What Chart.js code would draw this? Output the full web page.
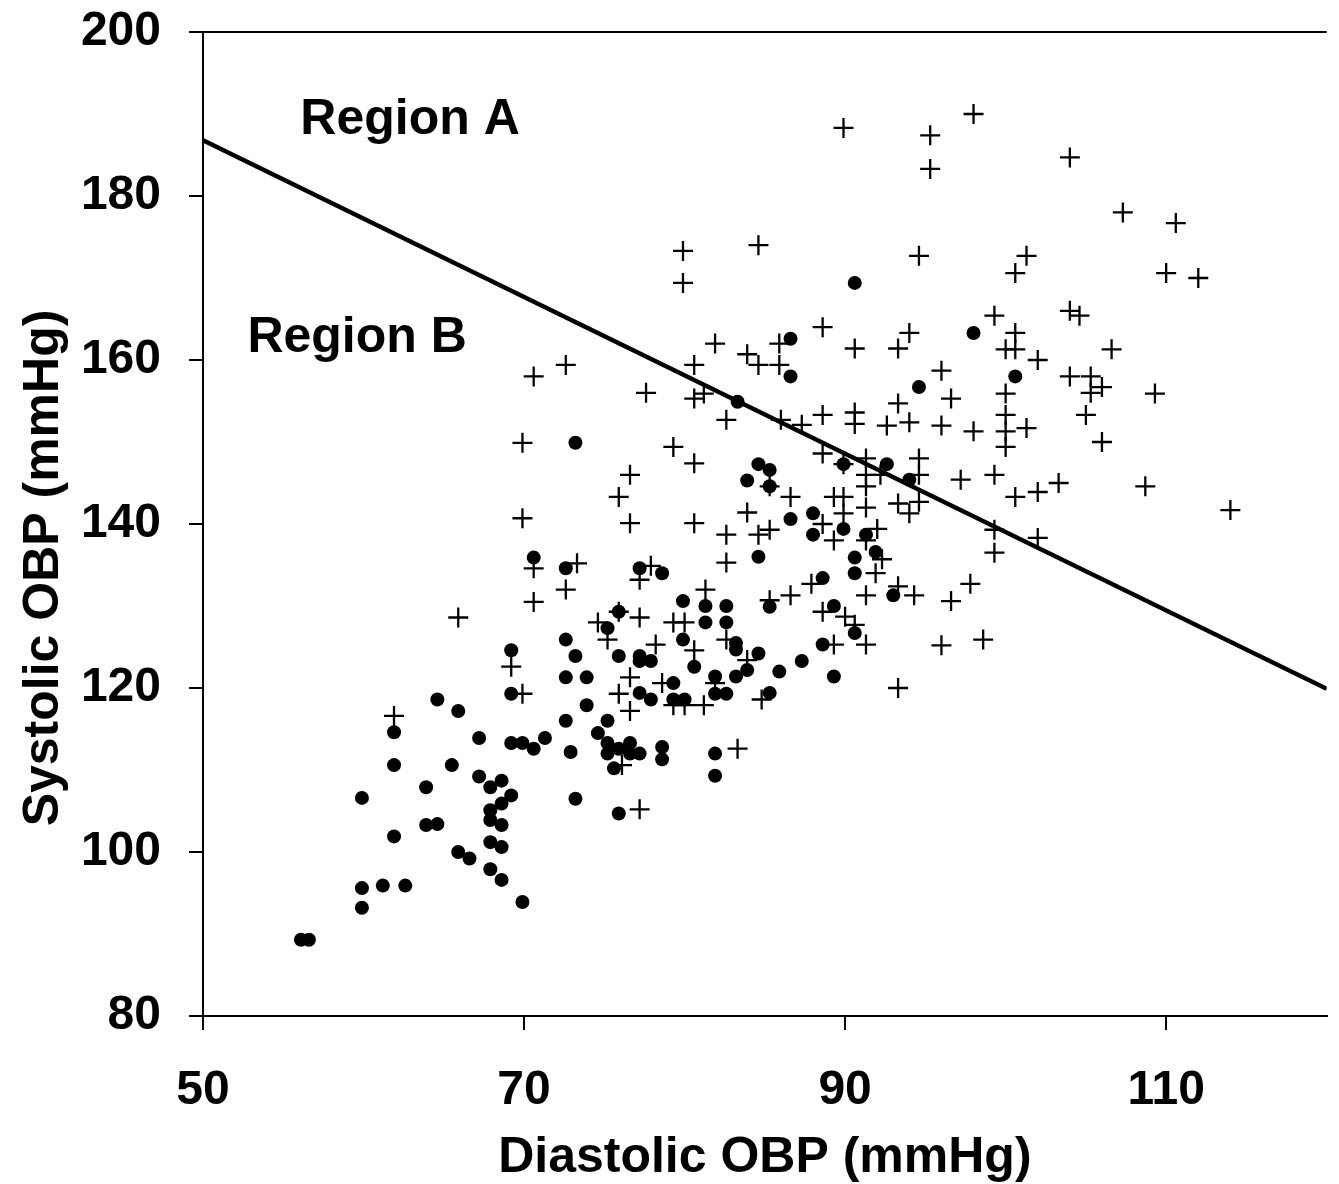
<!DOCTYPE html>
<html><head><meta charset="utf-8">
<script src="https://cdn.jsdelivr.net/npm/chart.js@4"></script>
<style>html,body{margin:0;padding:0;background:#fff}#wrap{width:1339px;height:1184px;position:relative}</style>
</head><body><div id="wrap"><canvas id="c"></canvas></div>
<script>
// Filled-circle group
const dotX = [64.6,65.9,69.2,61.9,67.2,69.2,69.9,70.6,71.3,61.9,65.5,67.2,68.6,67.9,63.9,69.2,68.6,59.9,67.9,67.9,68.6,63.9,64.6,61.9,67.9,68.6,65.9,66.6,67.9,68.6,59.9,61.2,62.6,59.9,69.9,56.1,56.6,
  79.9,75.9,75.2,72.6,79.9,80.6,73.2,75.9,77.2,77.2,77.9,72.6,73.9,79.3,77.2,77.9,79.3,80.0,73.9,72.6,75.2,74.6,72.9,75.2,76.6,75.9,75.2,76.6,77.2,78.6,78.6,75.6,73.2,75.9,81.9,81.9,81.9,82.6,85.3,
  89.9,92.6,94.0,84.6,85.3,83.9,85.3,86.6,88.0,89.9,88.0,91.3,91.9,90.6,84.6,90.6,88.6,85.3,93.0,89.3,90.6,88.6,81.3,82.6,81.3,82.6,83.2,83.2,84.6,83.9,87.3,85.9,89.3,81.9,83.2,
  73.2,70.6,72.6,77.2,78.6,69.2,90.6,86.6,86.6,94.6,83.3,98.0,100.6];
const dotY = [118.6,117.2,119.3,114.6,113.9,113.3,113.3,112.6,113.9,110.6,110.6,109.2,108.7,107.9,107.9,106.9,105.9,106.6,105.1,103.9,103.3,103.3,103.4,101.9,101.2,100.6,100.0,99.2,97.9,96.6,95.6,95.9,95.9,93.2,93.9,89.3,89.3,
  130.6,129.3,127.3,125.9,125.9,122.6,123.9,123.9,123.9,123.3,123.3,121.3,121.3,120.6,119.4,118.6,118.6,118.6,117.9,116.0,116.0,114.5,112.2,113.3,113.3,112.6,112.0,112.0,112.0,112.8,111.3,110.2,106.5,104.7,112.0,109.3,119.3,119.3,119.4,
  147.3,147.3,145.4,147.3,146.6,145.3,144.6,140.6,141.3,139.4,138.7,138.7,136.6,135.9,136.0,134.0,133.4,129.9,131.3,130.0,126.7,125.3,130.0,130.0,128.0,128.0,125.5,124.7,124.2,122.2,123.3,122.0,121.4,121.4,121.4,
  149.9,135.9,134.6,134.6,134.0,124.6,169.4,162.6,158.0,156.7,154.9,163.3,158.0];

// Plus-sign group
const crossX = [69.9,61.9,72.6,77.2,75.9,77.2,74.6,79.3,80.0,75.2,78.2,80.6,76.6,78.6,75.9,79.3,80.0,76.6,76.1,77.2,84.8,81.2,83.3,81.9,
  88.6,89.9,91.3,94.6,92.2,91.3,94.6,97.2,85.3,91.3,86.6,89.3,89.9,91.3,93.3,94.0,94.6,83.9,89.9,88.6,92.0,82.6,84.6,85.3,91.3,89.3,92.3,82.6,91.9,87.9,81.3,85.3,86.6,91.3,93.3,94.3,96.6,97.8,88.6,90.0,90.6,89.3,91.3,96.0,82.6,83.9,93.3,
  70.6,72.6,77.6,80.6,80.6,69.9,79.3,80.6,76.6,75.9,69.9,76.6,80.6,70.6,73.3,77.9,70.6,65.9,69.2,
  79.9,79.9,84.6,94.6,88.6,94.0,85.9,81.9,90.6,93.3,83.9,84.6,85.9,81.2,82.6,86.0,87.3,88.6,90.6,90.6,93.3,92.6,94.0,
  99.3,104.0,104.6,100.6,100.0,100.6,102.0,106.6,96.0,104.0,105.3,106.0,105.3,109.3,96.6,100.0,100.0,96.0,98.0,100.0,101.3,100.0,105.0,106.0,99.3,100.6,102.0,103.3,108.7,114.0,99.3,102.0,99.3,98.6,
  89.9,95.3,95.3,98.0,104.0,107.3,110.6,101.3,100.6,110.0,112.0];
const crossY = [119.3,116.6,132.0,133.2,129.3,128.6,128.0,128.0,128.0,125.9,125.3,124.6,121.3,120.6,119.3,117.9,117.9,117.2,110.6,105.2,118.6,117.9,112.6,120.6,
  148.6,147.3,148.0,148.0,146.0,146.0,146.0,145.4,144.6,144.6,143.3,143.3,143.3,142.0,142.5,141.3,142.7,141.4,141.3,140.0,139.4,138.7,138.7,139.3,138.0,138.0,135.7,135.3,134.0,132.7,132.0,130.7,131.3,131.3,132.4,131.3,130.6,132.7,129.3,128.7,127.7,125.3,125.3,125.2,125.9,123.4,120.0,
  158.0,159.4,156.0,159.4,155.3,149.9,149.4,147.4,146.0,143.3,140.7,140.1,140.1,134.6,135.2,134.9,130.5,128.6,122.6,
  173.3,169.4,174.0,172.7,164.0,163.3,162.0,162.0,161.4,161.4,160.7,159.4,159.4,155.9,152.7,152.7,152.1,153.3,153.6,152.2,154.7,152.0,152.4,
  165.4,166.0,165.4,163.3,161.3,161.3,160.0,161.3,158.7,158.0,158.0,156.7,156.0,155.9,155.3,155.9,153.3,152.0,151.3,151.3,151.7,149.4,153.3,150.0,146.0,143.3,143.9,145.0,144.6,141.7,139.3,138.3,136.5,125.9,
  188.3,187.4,183.3,190.0,184.7,178.0,176.7,172.7,170.6,170.6,170.0];

// Boundary line between regions
const lineX = [50, 120];
const lineY = [186.8, 119.9];

const xTicks = [50, 70, 90, 110];
const yTicks = [80, 100, 120, 140, 160, 180, 200];
const regionLabels = ['Region A', 'Region B'];
const regionX = [62.9, 59.6];
const regionY = [189.3, 162.7];
const xTitle = 'Diastolic OBP (mmHg)';
const yTitle = 'Systolic OBP (mmHg)';

const FONT = '"Liberation Sans", Arial, Helvetica, sans-serif';

const textPlugin = {
  id: 'texts',
  afterDraw(chart) {
    const ctx = chart.ctx, a = chart.chartArea;
    const xs = chart.scales.x, ys = chart.scales.y;
    ctx.save();
    // top frame line
    ctx.strokeStyle = '#000'; ctx.lineWidth = 2;
    ctx.beginPath(); ctx.moveTo(a.left, a.top); ctx.lineTo(a.right, a.top); ctx.stroke();
    ctx.fillStyle = '#000';
    ctx.font = 'bold 50px ' + FONT;
    ctx.textAlign = 'center'; ctx.textBaseline = 'middle';
    regionLabels.forEach((t, i) => {
      ctx.fillText(t, xs.getPixelForValue(regionX[i]), ys.getPixelForValue(regionY[i]));
    });
    ctx.textBaseline = 'alphabetic';
    ctx.fillText(xTitle, (a.left + a.right) / 2, 1172);
    ctx.translate(58, 568);
    ctx.rotate(-Math.PI / 2);
    ctx.fillText(yTitle, 0, 0);
    ctx.restore();
  }
};

const tickFont = { family: FONT, size: 48, weight: 'bold' };

new Chart(document.getElementById('c'), {
  type: 'scatter',
  data: {
    datasets: [
      {
        data: lineX.map((x, i) => ({ x, y: lineY[i] })),
        showLine: true, borderColor: '#000', borderWidth: 4.5, pointRadius: 0, order: 3
      },
      {
        data: dotX.map((x, i) => ({ x, y: dotY[i] })),
        pointStyle: 'circle', pointRadius: 7, backgroundColor: '#000', borderColor: '#000', borderWidth: 0, order: 2
      },
      {
        data: crossX.map((x, i) => ({ x, y: crossY[i] })),
        pointStyle: 'cross', pointRadius: 10, borderColor: '#000', backgroundColor: '#000', borderWidth: 2.3, order: 1
      }
    ]
  },
  options: {
    responsive: true, maintainAspectRatio: false, animation: false, events: [],
    layout: { padding: { top: 32, right: 10, left: 0, bottom: 0 } },
    plugins: { legend: { display: false }, tooltip: { enabled: false } },
    scales: {
      x: {
        type: 'linear', min: 50, max: 120,
        afterBuildTicks: s => { s.ticks = xTicks.map(v => ({ value: v })); },
        afterFit: s => { s.height = 168; s.paddingLeft = 0; s.paddingRight = 0; },
        grid: { drawOnChartArea: false, drawTicks: true, tickLength: 14, color: '#000', lineWidth: 2 },
        border: { display: true, color: '#000', width: 2 },
        ticks: { font: tickFont, color: '#000', padding: 32, maxRotation: 0, autoSkip: false }
      },
      y: {
        type: 'linear', min: 80, max: 200,
        afterBuildTicks: s => { s.ticks = yTicks.map(v => ({ value: v })); },
        afterFit: s => { s.width = 203; s.paddingTop = 0; s.paddingBottom = 0; },
        grid: { drawOnChartArea: false, drawTicks: true, tickLength: 14, color: '#000', lineWidth: 2 },
        border: { display: true, color: '#000', width: 2 },
        ticks: { font: tickFont, color: '#000', padding: 28, autoSkip: false }
      }
    }
  },
  plugins: [textPlugin]
});
</script></body></html>
